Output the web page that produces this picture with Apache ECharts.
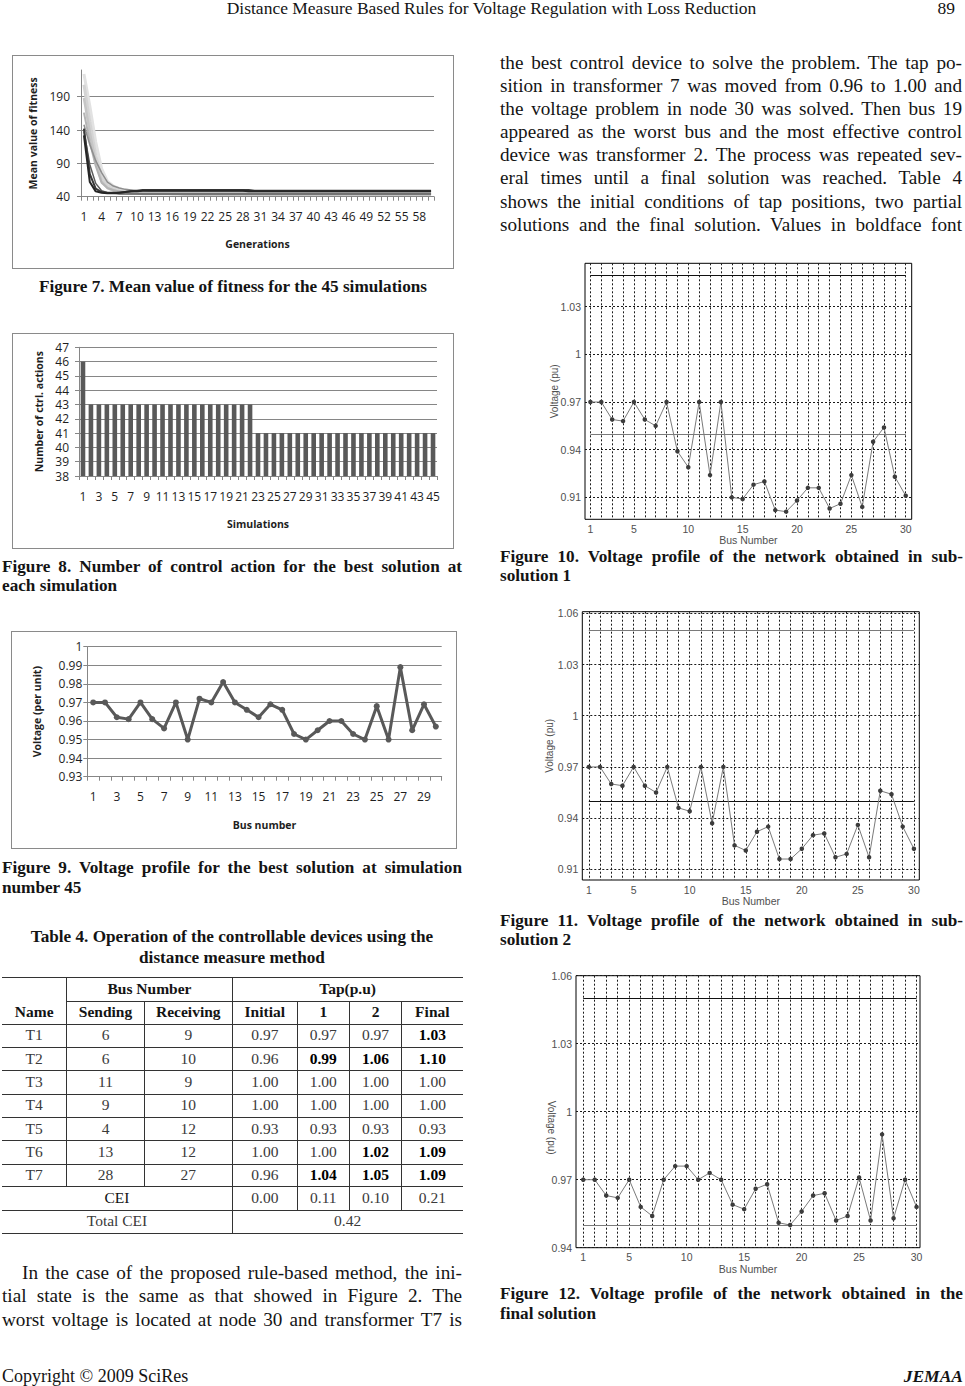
<!DOCTYPE html>
<html><head><meta charset="utf-8">
<script src="https://cdn.jsdelivr.net/npm/echarts@6/dist/echarts.min.js"></script>
<style>
html,body{margin:0;padding:0;background:#fff;}
body{width:965px;height:1386px;position:relative;overflow:hidden;font-family:"Liberation Serif","Times New Roman",serif;color:#141414;}
.t{position:absolute;line-height:1;white-space:nowrap;}
.j{white-space:normal;text-align:justify;text-align-last:justify;}
.box{position:absolute;border:1px solid #8a8a8a;box-sizing:border-box;}
.ln{position:absolute;background:#333;}
#c{position:absolute;left:0;top:0;width:965px;height:1386px;z-index:2;}
</style></head>
<body>
<div class="box" style="left:12px;top:55px;width:442px;height:214px"></div>
<div class="box" style="left:12px;top:333px;width:442px;height:216px"></div>
<div class="box" style="left:11px;top:631px;width:446px;height:218px"></div>
<div id="c"></div>
<script>
// ---------------- DATA ----------------
const generations = [1,2,3,4,5,6,7,8,9,10,11,12,13,14,15,16,17,18,19,20,21,22,23,24,25,26,27,28,29,30,
  31,32,33,34,35,36,37,38,39,40,41,42,43,44,45,46,47,48,49,50,51,52,53,54,55,56,57,58,59,60];
const fitnessRunA = [224,176,122,82,63,56,52,50,49,48, 47,47,46,46,46,46,46,45,45,45, 45,45,45,45,45,45,45,45,45,45,
  45,45,45,45,45,45,45,45,45,45, 45,45,45,45,45,45,45,45,45,45, 45,45,45,45,45,45,45,45,45,45];
const fitnessRunB = [208,152,102,70,57,52,49,48,47,46, 46,45,45,45,45,44,44,44,44,44, 44,44,44,44,44,44,44,44,44,44,
  44,44,44,44,44,44,44,44,44,44, 44,44,44,44,44,44,44,44,44,44, 44,44,44,44,44,44,44,44,44,44];
const fitnessRunC = [188,136,92,63,53,49,47,46,45,45, 44,44,44,44,44,44,44,43,43,43, 43,43,43,43,43,43,43,43,43,43,
  43,43,43,43,43,43,43,43,43,43, 43,43,43,43,43,43,43,43,43,43, 43,43,43,43,43,43,43,43,43,43];
const fitnessRunD = [166,122,86,61,53,50,48,47,46,46, 45,45,45,45,45,45,45,45,45,45, 45,45,45,45,45,45,45,45,45,45,
  45,45,45,45,45,45,45,45,45,45, 45,45,45,45,45,45,45,45,45,45, 45,45,45,45,45,45,45,45,45,45];
const fitnessRunE = [148,118,94,76,62,56,53,51,50,49, 49,48,48,48,48,48,48,48,48,48, 48,48,48,48,48,48,48,48,48,48,
  48,48,48,48,48,48,48,48,48,48, 48,48,48,48,48,48,48,48,48,48, 48,48,48,48,48,48,48,48,48,48];
const fitnessRunF = [138,88,60,49,46,45,44,44,44,44, 44,44,44,44,44,44,44,44,44,44, 44,44,44,44,44,44,44,44,44,44,
  44,44,44,44,44,44,44,44,44,44, 44,44,44,44,44,44,44,44,44,44, 44,44,44,44,44,44,44,44,44,44];
const fitnessRunG = [142,74,52,47,46,46,46,47,48,49, 50,50,50,50,50,50,50,50,50,50, 50,50,50,50,50,50,50,50,50,49,
  49,49,49,49,49,49,49,49,49,49, 49,49,49,49,49,49,49,49,49,49, 49,49,49,49,49,49,49,49,49,49];
const fitnessRunH = [132,62,48,46,45,45,46,47,48,48, 49,49,49,49,49,49,49,49,49,49, 49,49,49,49,49,49,49,49,48,48,
  48,48,48,48,48,48,48,48,48,48, 48,48,48,48,48,48,48,48,48,48, 48,48,48,48,48,48,48,48,48,48];
const fitnessTicks = [40,90,140,190];

const simulations = [1,2,3,4,5,6,7,8,9,10,11,12,13,14,15,16,17,18,19,20,21,22,23,24,25,26,27,28,29,30,
  31,32,33,34,35,36,37,38,39,40,41,42,43,44,45];
const ctrlActions = [46,43,43,43,43,43,43,43,43,43,43,43,43,43,43,43,43,43,43,43,43,43,
  41,41,41,41,41,41,41,41,41,41,41,41,41,41,41,41,41,41,41,41,41,41,41];

const busNumbers = [1,2,3,4,5,6,7,8,9,10,11,12,13,14,15,16,17,18,19,20,21,22,23,24,25,26,27,28,29,30];
const voltageBest45 = [0.970,0.970,0.962,0.961,0.970,0.961,0.956,0.970,0.950,0.972,0.970,0.981,0.970,0.966,0.962,
  0.969,0.966,0.953,0.950,0.955,0.960,0.960,0.953,0.950,0.968,0.950,0.989,0.955,0.969,0.957];
const voltageSub1 = [0.970,0.970,0.959,0.958,0.970,0.959,0.955,0.970,0.939,0.929,0.970,0.924,0.970,0.910,0.909,
  0.918,0.920,0.902,0.901,0.908,0.916,0.916,0.903,0.906,0.924,0.904,0.945,0.954,0.923,0.911];
const voltageSub2 = [0.970,0.970,0.960,0.959,0.970,0.959,0.955,0.970,0.946,0.944,0.970,0.937,0.970,0.924,0.921,
  0.932,0.935,0.916,0.916,0.922,0.930,0.931,0.917,0.919,0.936,0.917,0.956,0.954,0.935,0.922];
const voltageFinal = [0.970,0.970,0.963,0.962,0.970,0.958,0.954,0.970,0.976,0.976,0.970,0.973,0.970,0.959,0.957,
  0.966,0.968,0.951,0.950,0.956,0.963,0.964,0.952,0.954,0.971,0.952,0.990,0.953,0.970,0.958];
const voltageLimits = [0.95, 1.05];
const busTickLabels = [1,5,10,15,20,25,30];
const voltTicksSub1 = [0.91,0.94,0.97,1,1.03];
const voltTicksSub2 = [0.91,0.94,0.97,1,1.03,1.06];
const voltTicksFinal = [0.94,0.97,1,1.03,1.06];

// Table 4
const devNames = ['T1','T2','T3','T4','T5','T6','T7'];
const sendingBus = [6,6,11,9,4,13,28];
const receivingBus = [9,10,9,10,12,12,27];
const tapInitial = [0.97,0.96,1.00,1.00,0.93,1.00,0.96];
const tapStep1 = [0.97,0.99,1.00,1.00,0.93,1.00,1.04];
const tapStep2 = [0.97,1.06,1.00,1.00,0.93,1.02,1.05];
const tapFinal = [1.03,1.10,1.00,1.00,0.93,1.09,1.09];
const ceiValues = [0.00,0.11,0.10,0.21];
const totalCei = 0.42;

// ---------------- TEXT HELPERS ----------------
function txt(s, o){
  const d = document.createElement('div');
  d.className = 't' + (o.align === 'justify' ? ' j' : '');
  d.textContent = s;
  const fs = o.fs;
  d.style.fontSize = fs + 'px';
  d.style.top = (o.cy - 0.54*fs) + 'px';
  if (o.bold) d.style.fontWeight = 'bold';
  if (o.italic) d.style.fontStyle = 'italic';
  if (o.color) d.style.color = o.color;
  if (o.align === 'center') { d.style.left = (o.x - 300) + 'px'; d.style.width = '600px'; d.style.textAlign = 'center'; }
  else if (o.align === 'right') { d.style.left = (o.x - 600) + 'px'; d.style.width = '600px'; d.style.textAlign = 'right'; }
  else { d.style.left = o.x + 'px'; if (o.w) d.style.width = o.w + 'px'; }
  document.body.appendChild(d);
}
function hline(x1,x2,y){ const d=document.createElement('div'); d.className='ln';
  d.style.left=x1+'px'; d.style.top=(y-0.5)+'px'; d.style.width=(x2-x1)+'px'; d.style.height='1px'; document.body.appendChild(d); }
function vline(x,y1,y2){ const d=document.createElement('div'); d.className='ln';
  d.style.left=(x-0.5)+'px'; d.style.top=y1+'px'; d.style.width='1px'; d.style.height=(y2-y1)+'px'; document.body.appendChild(d); }

// header / footer
txt('Distance Measure Based Rules for Voltage Regulation with Loss Reduction', {x:491.5, cy:9, fs:17.5, align:'center'});
txt('89', {x:955, cy:9, fs:17.5, align:'right'});
txt('Copyright \u00A9 2009 SciRes', {x:2, cy:1377, fs:18});
txt('JEMAA', {x:963, cy:1377, fs:17.5, align:'right', bold:true, italic:true});

// right column paragraph
const rightPara = [
 'the best control device to solve the problem. The tap po-',
 'sition in transformer 7 was moved from 0.96 to 1.00 and',
 'the voltage problem in node 30 was solved. Then bus 19',
 'appeared as the worst bus and the most effective control',
 'device was transformer 2. The process was repeated sev-',
 'eral times until a final solution was reached. Table 4',
 'shows the initial conditions of tap positions, two partial',
 'solutions and the final solution. Values in boldface font'];
rightPara.forEach((s,i)=>txt(s,{x:500, w:462, cy:63+23.15*i, fs:19.2, align:'justify'}));

// left bottom paragraph
txt('In the case of the proposed rule-based method, the ini-', {x:22, w:440, cy:1273, fs:19.2, align:'justify'});
txt('tial state is the same as that showed in Figure 2. The', {x:2, w:460, cy:1296.5, fs:19.2, align:'justify'});
txt('worst voltage is located at node 30 and transformer T7 is', {x:2, w:460, cy:1320, fs:19.2, align:'justify'});

// captions
const cf = 17.2;
txt('Figure 7. Mean value of fitness for the 45 simulations', {x:233, cy:287, fs:cf, bold:true, align:'center'});
txt('Figure 8. Number of control action for the best solution at', {x:2, w:460, cy:567, fs:cf, bold:true, align:'justify'});
txt('each simulation', {x:2, cy:586, fs:cf, bold:true});
txt('Figure 9. Voltage profile for the best solution at simulation', {x:2, w:460, cy:868, fs:cf, bold:true, align:'justify'});
txt('number 45', {x:2, cy:888, fs:cf, bold:true});
txt('Table 4. Operation of the controllable devices using the', {x:232, cy:937, fs:cf, bold:true, align:'center'});
txt('distance measure method', {x:232, cy:958, fs:cf, bold:true, align:'center'});
txt('Figure 10. Voltage profile of the network obtained in sub-', {x:500, w:463, cy:557, fs:cf, bold:true, align:'justify'});
txt('solution 1', {x:500, cy:576, fs:cf, bold:true});
txt('Figure 11. Voltage profile of the network obtained in sub-', {x:500, w:463, cy:921, fs:cf, bold:true, align:'justify'});
txt('solution 2', {x:500, cy:940, fs:cf, bold:true});
txt('Figure 12. Voltage profile of the network obtained in the', {x:500, w:463, cy:1294, fs:cf, bold:true, align:'justify'});
txt('final solution', {x:500, cy:1314, fs:cf, bold:true});

// ---------------- TABLE ----------------
const colX = [1.7, 66.7, 144.3, 232.3, 297.3, 349.3, 401.7, 463];
const rowY = [977.3, 1001.7, 1024, 1047.3, 1070.7, 1094, 1117.3, 1140.7, 1164, 1186.7, 1210, 1233.3];
const tf = 15.5;
const cx = i => (colX[i]+colX[i+1])/2;
const cyR = r => (rowY[r]+rowY[r+1])/2;
hline(colX[0], colX[7], rowY[0]);
hline(colX[1], colX[7], rowY[1]);
for (let r=2; r<rowY.length; r++) hline(colX[0], colX[7], rowY[r]);
vline(colX[1], rowY[0], rowY[9]);
vline(colX[2], rowY[1], rowY[9]);
vline(colX[3], rowY[0], rowY[11]);
vline(colX[4], rowY[1], rowY[10]);
vline(colX[5], rowY[1], rowY[10]);
vline(colX[6], rowY[1], rowY[10]);
txt('Bus Number', {x:(colX[1]+colX[3])/2, cy:cyR(0), fs:tf, bold:true, align:'center'});
txt('Tap(p.u)', {x:(colX[3]+colX[7])/2, cy:cyR(0), fs:tf, bold:true, align:'center'});
['Name','Sending','Receiving','Initial','1','2','Final'].forEach((h,i)=>txt(h,{x:cx(i), cy:cyR(1), fs:tf, bold:true, align:'center'}));
const valColor = '#3a3a3a';
devNames.forEach((n,r)=>{
  const row = r+2;
  txt(n, {x:cx(0), cy:cyR(row), fs:tf, align:'center', color:valColor});
  txt(String(sendingBus[r]), {x:cx(1), cy:cyR(row), fs:tf, align:'center', color:valColor});
  txt(String(receivingBus[r]), {x:cx(2), cy:cyR(row), fs:tf, align:'center', color:valColor});
  [tapInitial[r], tapStep1[r], tapStep2[r], tapFinal[r]].forEach((v,k)=>{
    const bold = k>0 && v !== tapInitial[r];
    txt(v.toFixed(2), {x:cx(3+k), cy:cyR(row), fs:tf, align:'center', bold:bold, color: bold ? '#000' : valColor});
  });
});
txt('CEI', {x:(colX[0]+colX[3])/2, cy:cyR(9), fs:tf, align:'center', color:'#111'});
ceiValues.forEach((v,k)=>txt(v.toFixed(2), {x:cx(3+k), cy:cyR(9), fs:tf, align:'center', color:valColor}));
txt('Total CEI', {x:(colX[0]+colX[3])/2, cy:cyR(10), fs:tf, align:'center', color:valColor});
txt(totalCei.toFixed(2), {x:(colX[3]+colX[7])/2, cy:cyR(10), fs:tf, align:'center', color:valColor});

// ---------------- CHARTS ----------------
const chart = echarts.init(document.getElementById('c'), null, {renderer:'svg', width:965, height:1386});
const XL = '"Open Sans", "Noto Sans", sans-serif';
const ML = '"Liberation Sans", Arial, sans-serif';
const axGrey = '#868686';
const xlLab = 12, xlName = 10.5;

function excelX(gi, data, interval, name, gap){
  return {type:'category', gridIndex:gi, data:data.map(String), boundaryGap:true,
    axisLine:{show:true, lineStyle:{color:axGrey, width:1}},
    axisTick:{show:true, interval:0, length:4, lineStyle:{color:axGrey}},
    axisLabel:{interval:interval, margin:14, fontFamily:XL, fontSize:xlLab, color:'#1e1e1e'},
    splitLine:{show:false},
    name:name, nameLocation:'middle', nameGap:gap, nameMoveOverlap:false,
    nameTextStyle:{fontFamily:XL, fontWeight:'bold', fontSize:xlName, color:'#1e1e1e'}};
}
function excelY(gi, extra, name, gap, margin){
  return Object.assign({type:'value', gridIndex:gi,
    axisLine:{show:true, lineStyle:{color:axGrey, width:1}},
    axisTick:{show:true, length:4, lineStyle:{color:axGrey}},
    axisLabel:{margin:margin, fontFamily:XL, fontSize:xlLab, color:'#1e1e1e'},
    splitLine:{show:true, lineStyle:{color:axGrey, width:1}},
    name:name, nameLocation:'middle', nameGap:gap, nameRotate:90, nameMoveOverlap:false,
    nameTextStyle:{fontFamily:XL, fontWeight:'bold', fontSize:xlName, color:'#1e1e1e'}}, extra);
}
function matX(gi, min, max, gap){
  return {type:'value', gridIndex:gi, min:min, max:max,
    axisLine:{show:false}, axisTick:{show:false, customValues:busNumbers},
    axisLabel:{customValues:busTickLabels, margin:4, fontFamily:ML, fontSize:10.5, color:'#505050'},
    splitLine:{show:true, lineStyle:{color:'#1a1a1a', type:[2,2], width:1}},
    name:'Bus Number', nameLocation:'middle', nameGap:gap, nameMoveOverlap:false,
    nameTextStyle:{fontFamily:ML, fontSize:10.5, color:'#505050'}};
}
function matY(gi, min, max, ticks, gap, rot, pad){
  return {type:'value', gridIndex:gi, min:min, max:max,
    axisLine:{show:false}, axisTick:{show:false, customValues:ticks},
    axisLabel:{customValues:ticks, margin:4, fontFamily:ML, fontSize:10.5, color:'#505050'},
    splitLine:{show:true, lineStyle:{color:'#1a1a1a', type:[2,2], width:1}},
    name:'Voltage (pu)', nameLocation:'middle', nameGap:gap, nameRotate:rot, nameMoveOverlap:false,
    nameTextStyle:{fontFamily:ML, fontSize:10, color:'#505050', padding:pad}};
}
function voltSeries(gi, values, limColors){
  return {type:'line', xAxisIndex:gi, yAxisIndex:gi, data:busNumbers.map((b,i)=>[b, values[i]]),
    symbol:'circle', symbolSize:4.5, itemStyle:{color:'#3c3c3c'},
    lineStyle:{color:'#7a7a7a', width:1}, silent:true, z:5,
    markLine:{silent:true, symbol:['none','none'], label:{show:false},
      lineStyle:{type:'solid', width:1},
      data: voltageLimits.map((v,k)=>[{coord:[busNumbers[0], v], lineStyle:{color:limColors[k], type:'solid', width:1}},
                                       {coord:[busNumbers[busNumbers.length-1], v]}])}};
}
function fitSeries(vals, color, width){
  return {type:'line', xAxisIndex:0, yAxisIndex:0, data:vals, symbol:'none', silent:true,
    lineStyle:{color:color, width:width}};
}

const G = (l,t,w,h,show)=>({left:l, top:t, width:w, height:h, outerBoundsMode:'none', containLabel:false,
  show:!!show, borderColor:'#000', borderWidth:1, backgroundColor:'transparent'});

chart.setOption({
  animation:false,
  grid:[
    G(81, 70, 353, 126.7),
    G(79, 347.3, 358, 128.7),
    G(87.3, 646.7, 354.4, 130),
    G(585, 263.3, 326.7, 256, true),
    G(582.3, 611.7, 337, 268.3, true),
    G(576, 975.7, 344, 272, true)
  ],
  xAxis:[
    excelX(0, generations, 2, 'Generations', 42),
    excelX(1, simulations, 1, 'Simulations', 42),
    excelX(2, busNumbers, 1, 'Bus number', 43),
    matX(3, 0.5, 30.55, 15),
    matX(4, 0.42, 30.48, 15),
    matX(5, 0.37, 30.3, 16)
  ],
  yAxis:[
    excelY(0, {min:40, max:230, axisTick:{show:true, length:4, lineStyle:{color:axGrey}, customValues:fitnessTicks},
      axisLabel:{customValues:fitnessTicks, margin:11, fontFamily:XL, fontSize:xlLab, color:'#1e1e1e'}}, 'Mean value of fitness', 43, 11),
    excelY(1, {min:38, max:47, interval:1}, 'Number of ctrl. actions', 35, 10),
    excelY(2, {min:0.93, max:1, interval:0.01}, 'Voltage (per unit)', 45, 5),
    matY(3, 0.8962, 1.0573, voltTicksSub1, 26, 90, 0),
    matY(4, 0.9037, 1.061, voltTicksSub2, 28, 90, 0),
    matY(5, 0.94, 1.06, voltTicksFinal, 20, -90, [0,0,0,32])
  ],
  series:[
    fitSeries(fitnessRunA, '#e2e2e2', 3),
    fitSeries(fitnessRunB, '#d4d4d4', 3),
    fitSeries(fitnessRunC, '#c6c6c6', 2.5),
    fitSeries(fitnessRunD, '#b4b4b4', 2),
    fitSeries(fitnessRunE, '#8e8e8e', 1.5),
    fitSeries(fitnessRunF, '#5c5c5c', 1.5),
    fitSeries(fitnessRunG, '#3a3a3a', 2),
    fitSeries(fitnessRunH, '#262626', 2),
    {type:'bar', xAxisIndex:1, yAxisIndex:1, data:ctrlActions, barCategoryGap:'42%', silent:true,
      itemStyle:{color:'#595959'}},
    {type:'line', xAxisIndex:2, yAxisIndex:2, data:voltageBest45, symbol:'circle', symbolSize:6, silent:true,
      itemStyle:{color:'#595959'}, lineStyle:{color:'#595959', width:3}},
    voltSeries(3, voltageSub1, ['#7a7a7a','#111111']),
    voltSeries(4, voltageSub2, ['#111111','#7a7a7a']),
    voltSeries(5, voltageFinal, ['#7a7a7a','#111111'])
  ]
});
</script>
</body></html>
